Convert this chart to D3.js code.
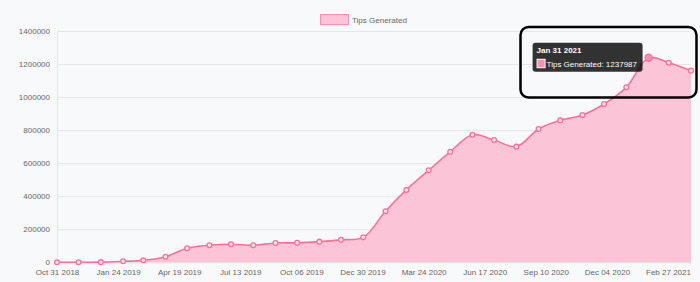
<!DOCTYPE html>
<html>
<head>
<meta charset="utf-8">
<script src="https://cdn.jsdelivr.net/npm/d3@7"></script>
<style>
html,body{margin:0;padding:0;background:#f8f9fa;}
svg{display:block;font-family:"Liberation Sans",Arial,Helvetica,sans-serif;}
</style>
</head>
<body>
<svg id="chart" width="700" height="282"></svg>
<script>
const dates = ["2018-10-31","2018-11-30","2018-12-31","2019-01-31","2019-02-28","2019-03-31","2019-04-30","2019-05-31","2019-06-30","2019-07-31","2019-08-31","2019-09-30","2019-10-31","2019-11-30","2019-12-31","2020-01-31","2020-02-29","2020-03-31","2020-04-30","2020-05-31","2020-06-30","2020-07-31","2020-08-31","2020-09-30","2020-10-31","2020-11-30","2020-12-31","2021-01-31","2021-02-28","2021-03-31"];
const tipsGenerated = [0,500,1000,6000,12000,34000,85000,103000,109000,103000,117000,118000,125000,136000,151000,309000,438000,557000,669000,772000,740000,700000,807000,859000,891000,958000,1059000,1237987,1208000,1160000];
const tickLabels = ["Oct 31 2018","Jan 24 2019","Apr 19 2019","Jul 13 2019","Oct 06 2019","Dec 30 2019","Mar 24 2020","Jun 17 2020","Sep 10 2020","Dec 04 2020","Feb 27 2021"];
const yTicks = [0,200000,400000,600000,800000,1000000,1200000,1400000];
const seriesName = "Tips Generated";
const hoverIndex = 27;

(function(){
const parse = d3.timeParse("%Y-%m-%d");
const parseTick = d3.timeParse("%b %d %Y");
const fmtTick = d3.timeFormat("%b %d %Y");
const data = dates.map((d,i)=>({date:parse(d), value:tipsGenerated[i]}));

const svg = d3.select("#chart");
const mL = 57, mR = 691, mT = 31, mB = 262.3;
const x = d3.scaleTime().domain([data[0].date, data[data.length-1].date]).range([mL,mR]);
const y = d3.scaleLinear().domain([0,1400000]).range([mB,mT]);

const lineColor = "#ff6f9b";
const fillColor = "#fcc5d7";
const gridColor = "#e6e7e9";
const textColor = "#666";

const yAxis = d3.axisLeft(y).tickValues(yTicks).tickSize(-(mR-mL)).tickPadding(6).tickFormat(d3.format("d"));
const gy = svg.append("g").attr("transform",`translate(${mL},0)`).call(yAxis);
gy.select(".domain").attr("stroke",gridColor).attr("stroke-width",1);
gy.selectAll(".tick line").attr("stroke",gridColor).attr("stroke-width",1);
gy.selectAll(".tick text").attr("fill",textColor).attr("font-size","8px").attr("x",-7);

const xAxis = d3.axisBottom(x).tickValues(tickLabels.map(parseTick)).tickSize(0).tickPadding(7).tickFormat(fmtTick);
const gx = svg.append("g").attr("transform",`translate(0,${mB})`).call(xAxis);
gx.select(".domain").remove();
gx.selectAll(".tick text").attr("fill",textColor).attr("font-size","8px");

const curve = d3.curveCatmullRom.alpha(0.5);
const area = d3.area().x(d=>x(d.date)).y0(y(0)).y1(d=>y(d.value)).curve(curve);
const line = d3.line().x(d=>x(d.date)).y(d=>y(d.value)).curve(curve);

svg.append("path").datum(data).attr("d",area).attr("fill",fillColor);
svg.append("path").datum(data).attr("d",line).attr("fill","none").attr("stroke",lineColor).attr("stroke-width",1.6);

svg.append("g").selectAll("circle").data(data).join("circle")
  .attr("cx",d=>x(d.date)).attr("cy",d=>y(d.value))
  .attr("r",(d,i)=>i===hoverIndex?3.5:2.4)
  .attr("fill",(d,i)=>i===hoverIndex?"#ff8fb1":"#fde3ec")
  .attr("stroke",lineColor).attr("stroke-width",1.3);

const lg = svg.append("g");
lg.append("rect").attr("x",320.5).attr("y",14.5).attr("width",28).attr("height",10).attr("fill",fillColor).attr("stroke","#ff8fb1").attr("stroke-width",1);
lg.append("text").attr("x",352).attr("y",22.5).attr("font-size","8px").attr("fill",textColor).text(seriesName);

const hp = data[hoverIndex];
const px = x(hp.date), py = y(hp.value);
const tw = 110, th = 29;
const tx = px - 6 - tw, ty = py - 15;
const tg = svg.append("g");
tg.append("rect").attr("x",tx).attr("y",ty).attr("width",tw).attr("height",th).attr("rx",3).attr("fill","rgba(0,0,0,0.8)");
tg.append("text").attr("x",tx+4).attr("y",ty+10.5).attr("fill","#fff").attr("font-size","8px").attr("font-weight","bold").text(fmtTick(hp.date));
tg.append("rect").attr("x",tx+4.5).attr("y",ty+16.5).attr("width",8).attr("height",8.5).attr("fill","#ff8fb1").attr("stroke","#fff").attr("stroke-width",1);
tg.append("text").attr("x",tx+14).attr("y",ty+24).attr("fill","#fff").attr("font-size","8px").text(`${seriesName}: ${hp.value}`);

svg.append("rect").attr("x",520.5).attr("y",27).attr("width",176).attr("height",70.5).attr("rx",8).attr("fill","none").attr("stroke","#000").attr("stroke-width",2.5);
})();
</script>
</body>
</html>
